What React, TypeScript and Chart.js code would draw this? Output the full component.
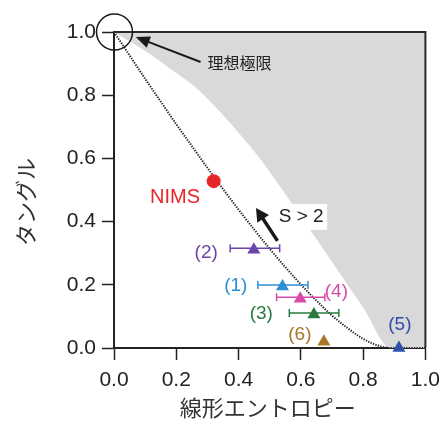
import React, { useEffect, useRef } from 'react';
import { Chart, registerables } from 'chart.js';

Chart.register(...registerables);

// Werner-state curve (dotted)
const wernerS = [0, 0.05, 0.1, 0.15, 0.2, 0.25, 0.3, 0.35, 0.4, 0.45, 0.5, 0.55, 0.6, 0.65, 0.7, 0.75, 0.8, 0.85, 0.889, 0.95, 1.0];
const wernerT = [1, 0.926, 0.852, 0.78, 0.708, 0.639, 0.57, 0.503, 0.438, 0.375, 0.314, 0.256, 0.201, 0.15, 0.103, 0.063, 0.029, 0.007, 0, 0, 0];

// Boundary of the grey (forbidden) region
const boundS = [0, 0.1, 0.2, 0.272, 0.35, 0.42, 0.48, 0.541, 0.62, 0.7, 0.8, 0.889, 1.0];
const boundT = [1, 0.94, 0.87, 0.816, 0.737, 0.658, 0.585, 0.5, 0.388, 0.273, 0.128, 0, 0];

// Samples (1)..(6)
const sampleLabels = ['(1)', '(2)', '(3)', '(4)', '(5)', '(6)'];
const sampleS = [0.541, 0.449, 0.642, 0.598, 0.915, 0.674];
const sampleT = [0.195, 0.311, 0.106, 0.156, 0.0, 0.02];
const sampleErrLow: (number | null)[] = [0.462, 0.373, 0.563, 0.522, null, null];
const sampleErrHigh: (number | null)[] = [0.623, 0.532, 0.722, 0.677, null, null];
const sampleColors = ['#2b8fd6', '#6b45a8', '#2a7a3e', '#d84aa8', '#2f4fa8', '#a8782a'];

// NIMS point
const nimsS = [0.32];
const nimsT = [0.528];

// Axis ticks
const tickValues = [0, 0.2, 0.4, 0.6, 0.8, 1.0];

// Annotation positions (data coordinates)
const sampleLabelS = [0.391, 0.296, 0.473, 0.714, 0.918, 0.597];
const sampleLabelT = [0.196, 0.301, 0.108, 0.177, 0.073, 0.041];

const TEXT = '#222222';
const CJK = '"Noto Sans CJK JP", "Noto Sans CJK SC", sans-serif';
const LATIN = '"Liberation Sans", Arial, sans-serif';

function drawArrow(ctx: CanvasRenderingContext2D, x1: number, y1: number, x2: number, y2: number, lw: number, headLen: number, headHalf: number, color: string) {
  const ang = Math.atan2(y2 - y1, x2 - x1);
  const bx = x2 - Math.cos(ang) * headLen;
  const by = y2 - Math.sin(ang) * headLen;
  ctx.save();
  ctx.strokeStyle = color;
  ctx.fillStyle = color;
  ctx.lineWidth = lw;
  ctx.lineCap = 'butt';
  ctx.beginPath();
  ctx.moveTo(x1, y1);
  ctx.lineTo(bx + Math.cos(ang) * 2, by + Math.sin(ang) * 2);
  ctx.stroke();
  ctx.beginPath();
  ctx.moveTo(x2, y2);
  ctx.lineTo(bx + Math.cos(ang + Math.PI / 2) * headHalf, by + Math.sin(ang + Math.PI / 2) * headHalf);
  ctx.lineTo(bx + Math.cos(ang - Math.PI / 2) * headHalf, by + Math.sin(ang - Math.PI / 2) * headHalf);
  ctx.closePath();
  ctx.fill();
  ctx.restore();
}

const decorPlugin = {
  id: 'decor',
  afterDatasetDraw(chart: any, args: any) {
    if (args.index !== 1) return;
    const { ctx, scales } = chart;
    const xs = scales.x, ys = scales.y;
    ctx.save();
    ctx.lineWidth = 1.5;
    for (let i = 0; i < sampleS.length; i++) {
      const lo = sampleErrLow[i], hi = sampleErrHigh[i];
      if (lo == null || hi == null) continue;
      const y = ys.getPixelForValue(sampleT[i]) - 1.5;
      const x1 = xs.getPixelForValue(lo), x2 = xs.getPixelForValue(hi);
      ctx.strokeStyle = sampleColors[i];
      ctx.beginPath();
      ctx.moveTo(x1, y); ctx.lineTo(x2, y);
      ctx.moveTo(x1, y - 4); ctx.lineTo(x1, y + 4);
      ctx.moveTo(x2, y - 4); ctx.lineTo(x2, y + 4);
      ctx.stroke();
    }
    ctx.restore();
  },
  afterDraw(chart: any) {
    const { ctx, scales, chartArea } = chart;
    const xs = scales.x, ys = scales.y;
    const px = (v: number) => xs.getPixelForValue(v);
    const py = (v: number) => ys.getPixelForValue(v);
    ctx.save();
    // frame top and right
    ctx.strokeStyle = '#2a2a2a';
    ctx.lineWidth = 2;
    ctx.beginPath();
    ctx.moveTo(chartArea.left, chartArea.top);
    ctx.lineTo(chartArea.right, chartArea.top);
    ctx.lineTo(chartArea.right, chartArea.bottom);
    ctx.stroke();

    // circle at ideal limit
    ctx.lineWidth = 1.5;
    ctx.strokeStyle = '#1a1a1a';
    ctx.beginPath();
    ctx.arc(px(0) + 0.5, py(1), 18, 0, Math.PI * 2);
    ctx.stroke();

    // 理想極限 arrow + text
    drawArrow(ctx, px(0.278), py(0.905), px(0.07), py(0.984), 2, 14, 6, '#1a1a1a');
    ctx.fillStyle = TEXT;
    ctx.font = `16px ${CJK}`;
    ctx.textAlign = 'center';
    ctx.textBaseline = 'middle';
    ctx.fillText('理想極限', px(0.403), py(0.902));

    // S > 2 label with white box + arrow
    ctx.fillStyle = '#ffffff';
    const sx = px(0.601), sy = py(0.415);
    ctx.fillRect(sx - 28, sy - 13, 54, 26);
    ctx.fillStyle = TEXT;
    ctx.font = `19px ${LATIN}`;
    ctx.fillText('S > 2', sx, sy);
    drawArrow(ctx, px(0.525), py(0.339), px(0.456), py(0.443), 3.5, 13, 7, '#1a1a1a');

    // NIMS
    ctx.fillStyle = '#e8262a';
    ctx.font = `20px ${LATIN}`;
    ctx.fillText('NIMS', px(0.196), py(0.475));

    // sample labels
    ctx.font = `19px ${LATIN}`;
    for (let i = 0; i < sampleLabels.length; i++) {
      ctx.fillStyle = sampleColors[i];
      ctx.fillText(sampleLabels[i], px(sampleLabelS[i]), py(sampleLabelT[i]));
    }

    // axis titles
    ctx.fillStyle = '#333333';
    ctx.font = `22px ${CJK}`;
    ctx.fillText('線形エントロピー', (chartArea.left + chartArea.right) / 2 - 2, 408);
    ctx.save();
    ctx.translate(26, (chartArea.top + chartArea.bottom) / 2 + 12);
    ctx.rotate(-Math.PI / 2);
    ctx.fillText('タングル', 0, 0);
    ctx.restore();
    ctx.restore();
  },
};

export default function App() {
  const ref = useRef<HTMLCanvasElement>(null);
  useEffect(() => {
    if (!ref.current) return;
    const toXY = (xs: number[], ys: number[]) => xs.map((x, i) => ({ x, y: ys[i] }));
    const tickOpts = {
      color: TEXT,
      font: { family: LATIN, size: 21 },
      callback: (v: any) => Number(v).toFixed(1),
    };
    const chart = new Chart(ref.current, {
      type: 'scatter',
      data: {
        datasets: [
          {
            type: 'line',
            data: toXY(boundS, boundT),
            borderWidth: 0,
            borderColor: 'rgba(0,0,0,0)',
            backgroundColor: '#d9d9d9',
            fill: 'end',
            pointRadius: 0,
            cubicInterpolationMode: 'monotone',
            order: 10,
          } as any,
          {
            type: 'line',
            data: toXY(wernerS, wernerT),
            borderColor: '#222222',
            borderWidth: 2,
            borderDash: [1.3, 1.3],
            fill: false,
            pointRadius: 0,
            cubicInterpolationMode: 'monotone',
            order: 5,
          } as any,
          {
            data: toXY(sampleS, sampleT),
            pointStyle: 'triangle',
            pointRadius: 7.5,
            pointBackgroundColor: sampleColors,
            pointBorderColor: sampleColors,
            pointBorderWidth: 0,
            clip: false,
            order: 1,
          } as any,
          {
            data: toXY(nimsS, nimsT),
            pointStyle: 'circle',
            pointRadius: 7,
            pointBackgroundColor: '#e8262a',
            pointBorderColor: '#e8262a',
            pointBorderWidth: 0,
            order: 0,
          } as any,
        ],
      },
      options: {
        responsive: false,
        animation: false,
        events: [],
        layout: { padding: { top: 32, right: 18, left: 0, bottom: 0 } },
        plugins: { legend: { display: false }, tooltip: { enabled: false } },
        scales: {
          x: {
            type: 'linear',
            min: 0,
            max: 1,
            afterFit: (s: any) => { s.height = 77; },
            afterBuildTicks: (s: any) => { s.ticks = tickValues.map((v) => ({ value: v })); },
            ticks: { ...tickOpts, padding: 8, maxRotation: 0 },
            grid: { display: true, drawOnChartArea: false, drawTicks: true, tickLength: 12, tickColor: '#222', tickWidth: 1.5 },
            border: { display: true, color: '#222', width: 2 },
          },
          y: {
            type: 'linear',
            min: 0,
            max: 1,
            afterFit: (s: any) => { s.width = 114; },
            afterBuildTicks: (s: any) => { s.ticks = tickValues.map((v) => ({ value: v })); },
            ticks: { ...tickOpts, padding: 6 },
            grid: { display: true, drawOnChartArea: false, drawTicks: true, tickLength: 12, tickColor: '#222', tickWidth: 1.5 },
            border: { display: true, color: '#222', width: 2 },
          },
        },
      },
      plugins: [decorPlugin],
    });
    return () => chart.destroy();
  }, []);
  return (
    <div style={{ position: 'absolute', left: 0, top: 0, width: 448, height: 425, background: '#fff' }}>
      <canvas ref={ref} width={448} height={425} style={{ width: 448, height: 425, display: 'block' }} />
    </div>
  );
}
